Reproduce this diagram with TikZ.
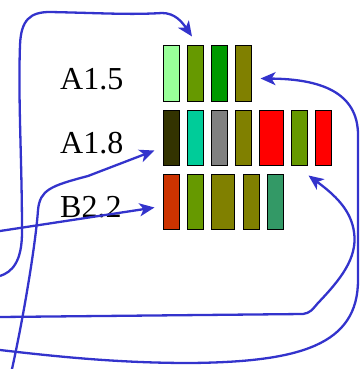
\documentclass[tikz,border=0pt]{standalone}
\usepackage{fontspec}
\setmainfont{Liberation Serif}
\usetikzlibrary{arrows.meta,calc}
\definecolor{linkblue}{HTML}{3333CC}
\definecolor{c99ff99}{HTML}{99FF99}
\definecolor{c669900}{HTML}{669900}
\definecolor{c009900}{HTML}{009900}
\definecolor{c808000}{HTML}{808000}
\definecolor{c333300}{HTML}{333300}
\definecolor{c00cc99}{HTML}{00CC99}
\definecolor{c808080}{HTML}{808080}
\definecolor{cff0000}{HTML}{FF0000}
\definecolor{ccc3300}{HTML}{CC3300}
\definecolor{c339966}{HTML}{339966}
\begin{document}
\begin{tikzpicture}[x=1pt,y=-1pt,
  bar/.style={draw=black,line width=1pt,inner sep=0pt,minimum height=55pt,
    minimum width=16pt,anchor=north west},
  lbl/.style={font=\fontsize{32}{36}\selectfont,anchor=base west,inner sep=0pt},
  link/.style={draw=linkblue,line width=2.3pt,
    -{Stealth[length=15pt,width=13pt,inset=4pt]}},
]
\useasboundingbox (0,0) rectangle (360,369);

% row labels
\node[lbl] (la) at (60,89) {A1.5};
\node[lbl] (lb) at (60,153) {A1.8};
\node[lbl] (lc) at (60,217) {B2.2};

% first row
\node[bar,fill=c99ff99] (r1a) at (162.5,45.5) {};
\node[bar,fill=c669900] (r1b) at (186.5,45.5) {};
\node[bar,fill=c009900] (r1c) at (210.5,45.5) {};
\node[bar,fill=c808000] (r1d) at (234.5,45.5) {};

% second row
\node[bar,fill=c333300] (r2a) at (162.5,109.5) {};
\node[bar,fill=c00cc99] (r2b) at (186.5,109.5) {};
\node[bar,fill=c808080] (r2c) at (210.5,109.5) {};
\node[bar,fill=c808000] (r2d) at (234.5,109.5) {};
\node[bar,fill=cff0000,minimum width=24pt] (r2e) at (258.5,109.5) {};
\node[bar,fill=c669900] (r2f) at (290.5,109.5) {};
\node[bar,fill=cff0000] (r2g) at (314.5,109.5) {};

% third row
\node[bar,fill=ccc3300] (r3a) at (162.5,173.5) {};
\node[bar,fill=c669900] (r3b) at (186.5,173.5) {};
\node[bar,fill=c808000,minimum width=23pt] (r3c) at (210.5,173.5) {};
\node[bar,fill=c808000] (r3d) at (242.5,173.5) {};
\node[bar,fill=c339966] (r3e) at (266.5,173.5) {};

% loose ends of the connectors at the picture's border
\coordinate (s1) at (0,276);
\coordinate (s2) at (12,369);
\coordinate (s3) at (0,231);
\coordinate (s4) at (0,350);
\coordinate (s5) at (0,317);

% connectors
\draw[link] (s1) .. controls (12,272) and (22,262) .. (22,232)
  .. controls (22,160) and (18,100) .. (20,45)
  .. controls (21,20) and (30,12) .. (50,12)
  .. controls (100,13) and (130,15) .. (162,13)
  .. controls (175,13) and (182,22) .. ([shift={(-3,-9)}]r1b.north);

\draw[link] (s2) .. controls (25,310) and (36,240) .. (38,210)
  .. controls (40,190) and (50,186) .. (88,176)
  -- ([shift={(-8,13)}]r2a.west);

\draw[link] (s3) -- ([shift={(-8,6)}]r3a.west);

\draw[link] (s4) .. controls (60,357) and (120,363) .. (190,363)
  .. controls (300,362) and (358,345) .. (358,280)
  -- (358,135)
  .. controls (358,92) and (320,79) .. ([shift={(9,5)}]r1d.east);

\draw[link] (s5) -- (303,314)
  .. controls (310,313) and (312,310) .. (318,303)
  .. controls (340,280) and (358,258) .. (354,232)
  .. controls (351,210) and (335,195) .. ([shift={(-6,10)}]r2g.south west);
\end{tikzpicture}
\end{document}
